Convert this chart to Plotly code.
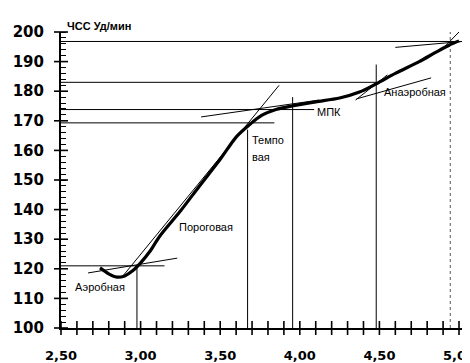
import plotly.graph_objects as go

# Heart-rate curve (speed, HR)
curve_x = [2.745, 2.80, 2.85, 2.90, 2.95, 3.00, 3.06, 3.12, 3.25, 3.37, 3.50, 3.60, 3.68, 3.76, 3.85, 3.95, 4.10, 4.25, 4.375, 4.48, 4.60, 4.75, 4.85, 4.94, 5.00]
curve_y = [120.3, 118.3, 117.2, 117.6, 119.3, 122.0, 126.0, 131.0, 139.5, 148.0, 157.0, 164.5, 168.5, 171.8, 173.8, 175.0, 176.4, 177.7, 179.7, 182.5, 186.0, 190.0, 193.0, 195.6, 197.0]

# Thin construction lines: (x0, y0, x1, y1)
seg_x0 = [2.50, 2.67, 2.977, 2.88, 2.50, 3.672, 2.50, 3.955, 3.38, 2.50, 4.48, 4.356, 4.35, 2.50, 4.60, 4.90]
seg_y0 = [121.0, 118.6, 100.0, 117.0, 169.3, 100.0, 173.8, 100.0, 171.3, 183.0, 100.0, 177.4, 177.0, 196.8, 194.8, 194.5]
seg_x1 = [3.15, 3.23, 2.977, 3.87, 3.84, 3.672, 4.09, 3.955, 4.12, 4.48, 4.48, 4.825, 4.55, 5.07, 5.04, 5.00]
seg_y1 = [121.0, 123.6, 121.0, 182.0, 169.3, 167.0, 173.8, 178.0, 177.0, 183.0, 189.0, 184.5, 185.5, 196.8, 196.9, 200.0]

# Dashed vertical at the end
dash_x = [4.945, 4.945]
dash_y = [100, 200]

# Axis ticks
x_tickvals = [2.5, 3.0, 3.5, 4.0, 4.5, 5.0]
x_ticktext = ["2,50", "3,00", "3,50", "4,00", "4,50", "5,00"]
x_minor = [2.5, 2.6, 2.7, 2.8, 2.9, 3.0, 3.1, 3.2, 3.3, 3.4, 3.5, 3.6, 3.7, 3.8, 3.9, 4.0, 4.1, 4.2, 4.3, 4.4, 4.5, 4.6, 4.7, 4.8, 4.9, 5.0]
y_tickvals = [100, 110, 120, 130, 140, 150, 160, 170, 180, 190, 200]

# Labels
lab_text = ["Аэробная", "Пороговая", "МПК", "Анаэробная"]
lab_x = [2.745, 3.41, 4.186, 4.726]
lab_y = [113.9, 134.1, 173.0, 179.7]

fig = go.Figure()

for x0, y0, x1, y1 in zip(seg_x0, seg_y0, seg_x1, seg_y1):
    fig.add_trace(go.Scatter(x=[x0, x1], y=[y0, y1], mode="lines",
                             line=dict(color="black", width=1), hoverinfo="skip", showlegend=False))

fig.add_trace(go.Scatter(x=dash_x, y=dash_y, mode="lines",
                         line=dict(color="#555555", width=1, dash="dot"), showlegend=False))

fig.add_trace(go.Scatter(x=curve_x, y=curve_y, mode="lines",
                         line=dict(color="black", width=3.2, shape="spline", smoothing=0.8),
                         showlegend=False))

# crossing ticks on x axis
fig.add_trace(go.Scatter(x=x_minor, y=[100] * len(x_minor), mode="markers",
                         marker=dict(symbol="line-ns", size=10, line=dict(color="black", width=1.6)),
                         cliponaxis=False, showlegend=False))
# crossing ticks on y axis (majors)
fig.add_trace(go.Scatter(x=[2.5] * len(y_tickvals), y=y_tickvals, mode="markers",
                         marker=dict(symbol="line-ew", size=10, line=dict(color="black", width=1.6)),
                         cliponaxis=False, showlegend=False))

for t, x, y in zip(lab_text, lab_x, lab_y):
    fig.add_annotation(x=x, y=y, text=t, showarrow=False,
                       font=dict(family="Liberation Sans, Arial", size=11, color="black"))

fig.add_annotation(x=3.69, y=163.5, text="Темпо", showarrow=False, xanchor="left",
                   font=dict(family="Liberation Sans, Arial", size=11, color="black"))
fig.add_annotation(x=3.69, y=157.8, text="вая", showarrow=False, xanchor="left",
                   font=dict(family="Liberation Sans, Arial", size=11, color="black"))
fig.add_annotation(x=2.525, y=1.047, yref="paper", text="<b>ЧСС Уд/мин</b>", showarrow=False,
                   xanchor="left",
                   font=dict(family="Liberation Sans, Arial", size=11, color="black"))

# page body has an 8px margin; size the figure so it fits the 470x363 window
fig.update_layout(
    width=462, height=355,
    margin=dict(l=53, r=0, t=24, b=35),
    paper_bgcolor="white", plot_bgcolor="white",
    xaxis=dict(range=[2.5, 5.069], showgrid=False, zeroline=False, automargin=False,
               showline=True, linecolor="black", linewidth=2,
               tickvals=x_tickvals, ticktext=x_ticktext, ticks="",
               ticklabelstandoff=14, ticklabeloverflow="allow",
               tickfont=dict(family="DejaVu Sans", size=13, color="black", weight="bold")),
    yaxis=dict(range=[100, 200], showgrid=False, zeroline=False, automargin=False,
               showline=True, linecolor="black", linewidth=2,
               tickvals=y_tickvals, ticks="",
               ticklabelstandoff=12,
               minor=dict(dtick=2, ticks="inside", ticklen=5, tickcolor="black", tickwidth=1),
               tickfont=dict(family="DejaVu Sans", size=15, color="black", weight="bold")),
)

fig.write_html("out.html")
